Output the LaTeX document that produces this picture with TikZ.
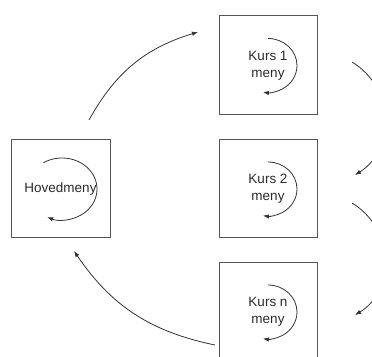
\documentclass[tikz,border=0pt]{standalone}
\usepackage{fontspec}
\setmainfont{Liberation Sans}
\usetikzlibrary{arrows.meta,calc}
\definecolor{boxline}{HTML}{555555}
\definecolor{txt}{HTML}{2A2A2A}
\definecolor{conn}{HTML}{333333}
\tikzset{
  menubox/.style={draw=boxline, line width=1pt, minimum width=98pt, minimum height=98pt,
    inner sep=0pt, align=center, text=txt, font=\fontsize{13.5}{17}\selectfont},
  loop/.style={draw=conn, line width=0.8pt, -{Latex[length=6pt,width=4.5pt]}},
  conn/.style={draw=conn, line width=0.8pt, -{Latex[length=6pt,width=4.5pt]}}
}
\begin{document}
\begin{tikzpicture}
\useasboundingbox (0,0) rectangle (372pt,356pt);
\begin{scope}[x=1pt,y=1pt]
\node[menubox, minimum width=99pt] (hoved) at (60.5,167) {Hovedmeny};
\node[menubox, minimum height=99pt] (k1) at (268,290.5) {Kurs 1\\meny};
\node[menubox] (k2) at (268,167) {Kurs 2\\meny};
\node[menubox] (kn) at (268,44) {Kurs n\\meny};

% inner loop arrows
\draw[loop] ($(hoved.center)+({1.5+35*cos(122)},{31*sin(122)})$) arc[start angle=122, end angle=-115, x radius=35, y radius=31];
\draw[loop] ($(k1.center)+(0,27)$) arc[start angle=90, end angle=-100, x radius=29, y radius=27];
\draw[loop] ($(k2.center)+(0,27)$) arc[start angle=90, end angle=-100, x radius=29, y radius=27];
\draw[loop] ($(kn.center)+(0,27)$) arc[start angle=90, end angle=-100, x radius=29, y radius=27];

% connector end points
\coordinate (hovedOut) at (89,236);
\coordinate (k1In) at (198,324);
\coordinate (knOut) at (215,11);
\coordinate (hovedIn) at (74,105);
\coordinate (k1Out) at (352,294);
\coordinate (k2In) at (355,181);
\coordinate (k2Out) at (352,153);
\coordinate (knIn) at (355,41);

\draw[conn] (hovedOut) to[bend left=22] (k1In);
\draw[conn] (knOut) to[bend left=22] (hovedIn);
\draw[conn] (k1Out) .. controls (395,268) and (395,206) .. (k2In);
\draw[conn] (k2Out) .. controls (395,127) and (395,65) .. (knIn);
\end{scope}
\end{tikzpicture}
\end{document}
